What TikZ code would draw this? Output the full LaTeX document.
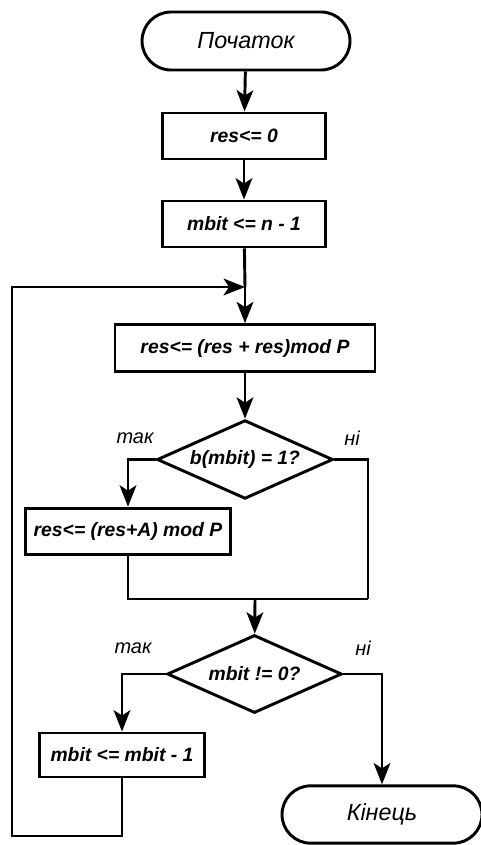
\documentclass[tikz,border=0pt]{standalone}
\usepackage{fontspec}
\setmainfont{Liberation Sans}
\usepackage{tikz}
\usetikzlibrary{shapes.geometric,shapes.misc,arrows.meta}

\begin{document}
\begin{tikzpicture}[x=0.75pt,y=-0.75pt,
		line/.style={line width=2.2pt},
		arr/.style={line width=2.2pt,-{Stealth[length=16pt,width=12.5pt,inset=4pt]}},
		term/.style={draw,line width=2.2pt,rounded rectangle,inner sep=0pt,font=\fontsize{17.5}{20}\selectfont\itshape},
		box/.style={draw,line width=2.2pt,rectangle,inner sep=0pt,font=\fontsize{14.5}{17}\selectfont\bfseries\itshape},
		cond/.style={draw,line width=2.2pt,diamond,aspect=2.2,inner sep=0pt,font=\fontsize{14.5}{17}\selectfont\bfseries\itshape},
		lbl/.style={font=\fontsize{15}{17}\selectfont\itshape}]
		\useasboundingbox (0,0) rectangle (481,845);
		
		\node[term,minimum width=156pt,minimum height=43.5pt] (start) at (246,41) {Початок};
		\node[box,minimum width=122pt,minimum height=34.5pt] (b1) at (244,136) {res<= 0};
		\node[box,minimum width=122pt,minimum height=34.5pt] (b2) at (244,224) {mbit <= n - 1};
		\coordinate (m1) at (245,287);
		\node[box,minimum width=195pt,minimum height=35pt] (b3) at (245,348) {res<= (res + res)mod P};
		\node[cond,minimum width=132pt,minimum height=59pt] (d1) at (245,459.5) {b(mbit) = 1?};
		\node[lbl] (yes1) at (135,438) {так};
		\node[lbl] (no1) at (352,438) {ні};
		\node[box,minimum width=154pt,minimum height=35pt] (b4) at (128,531.5) {res<= (res+A) mod P};
		\coordinate (jr) at (368,599);
		\coordinate (j) at (255,599);
		\node[cond,minimum width=131pt,minimum height=58.5pt] (d2) at (254.5,674) {mbit != 0?};
		\node[lbl] (yes2) at (133,648) {так};
		\node[lbl] (no2) at (363,648) {ні};
		\node[box,minimum width=124pt,minimum height=33pt] (b5) at (122,755) {mbit <= mbit - 1};
		\node[term,minimum width=150pt,minimum height=43pt] (end) at (382,814.5) {Кінець};
		\coordinate (lb) at (12,836);
		
		\draw[arr] (start) -- (b1);
		\draw[arr] (b1) -- (b2);
		\draw[line] (b2) -- (m1);
		\draw[arr] (m1) -- (b3);
		\draw[arr] (b3) -- (d1);
		\draw[arr] (d1.west) -| (b4.north);
		\draw[line] (d1.east) -| (jr);
		\draw[line] (b4.south) |- (jr);
		\draw[arr] (j) -- (d2);
		\draw[arr] (d2.west) -| (b5.north);
		\draw[arr] (d2.east) -| (end.north);
		\draw[arr] (b5.south) |- (lb) |- (m1);
	\end{tikzpicture}
\end{document}
